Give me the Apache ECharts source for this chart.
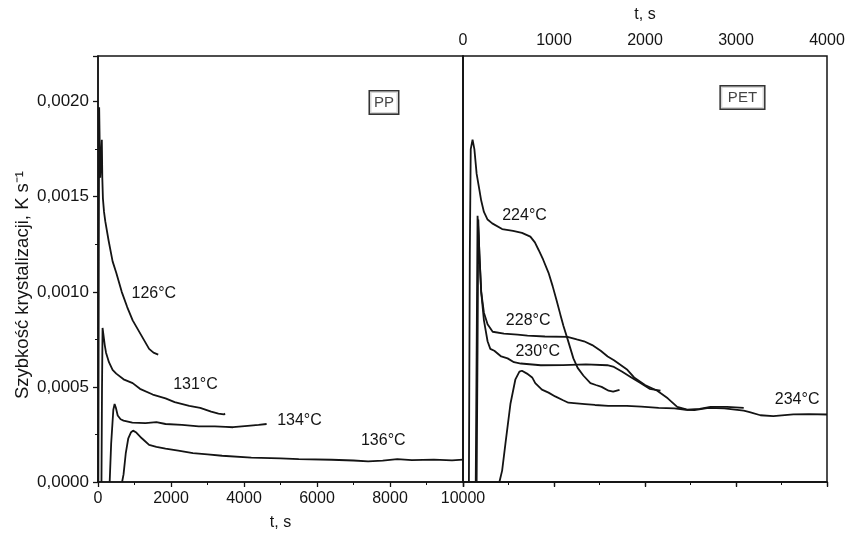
<!DOCTYPE html>
<html>
<head>
<meta charset="utf-8">
<script src="https://cdn.jsdelivr.net/npm/echarts@6/dist/echarts.min.js"></script>
<style>html,body{margin:0;padding:0;background:#fff}#c{width:852px;height:536px}</style>
</head>
<body>
<div id="c"></div>
<script>
// ---- data (t in s, rate in K/s) ----
const PP_126 = [[10,0],[22,0.0012],[32,0.00197],[45,0.0018],[60,0.0016],[85,0.0017],[105,0.0018],[118,0.0016],[135,0.00149],[165,0.00142],[200,0.00137],[290,0.00127],[400,0.00116],[500,0.0011],[650,0.001],[800,0.00092],[950,0.00085],[1100,0.0008],[1250,0.00075],[1400,0.0007],[1520,0.00068],[1650,0.00067]];
const PP_131 = [[95,0],[110,0.0005],[125,0.00081],[165,0.0008],[185,0.00072],[220,0.00068],[300,0.00063],[400,0.00059],[500,0.00057],[700,0.00054],[950,0.00052],[1150,0.00049],[1500,0.00046],[1850,0.00044],[2100,0.00042],[2500,0.0004],[2800,0.00039],[3100,0.00037],[3300,0.00036],[3450,0.000355],[3480,0.00036]];
const PP_134 = [[320,0],[360,0.0002],[420,0.00038],[455,0.00041],[490,0.00039],[540,0.00035],[619,0.00033],[700,0.000323],[940,0.000312],[1300,0.00031],[1600,0.000315],[1850,0.000305],[2300,0.0003],[2760,0.000293],[3200,0.000292],[3500,0.00029],[3700,0.000288],[4100,0.000295],[4400,0.0003],[4620,0.000305]];
const PP_136 = [[660,0],[700,0.00004],[760,0.00015],[830,0.00023],[900,0.00026],[960,0.00027],[1050,0.00026],[1200,0.00023],[1400,0.000195],[1600,0.000185],[1850,0.000175],[2200,0.000165],[2600,0.000152],[3000,0.000145],[3400,0.000138],[4200,0.000128],[5000,0.000124],[5500,0.00012],[6400,0.000117],[7000,0.000113],[7400,0.000108],[7800,0.000112],[8200,0.00012],[8600,0.000115],[9200,0.000118],[9700,0.000114],[10000,0.000118]];

const PET_224 = [[65,0],[75,0.0012],[85,0.00175],[105,0.0018],[125,0.00175],[150,0.00162],[175,0.00155],[200,0.00148],[230,0.00142],[270,0.00138],[321,0.00136],[430,0.00133],[550,0.00132],[648,0.00131],[740,0.00129],[790,0.00126],[831,0.00122],[880,0.00117],[940,0.0011],[985,0.00103],[1031,0.00095],[1070,0.00088],[1104,0.00082],[1150,0.00075],[1213,0.00065],[1260,0.0006],[1322,0.00056],[1400,0.00052],[1460,0.00051],[1523,0.0005],[1600,0.00048],[1650,0.000475],[1720,0.000485]];
const PET_228 = [[140,0],[150,0.0007],[160,0.0014],[172,0.0013],[185,0.00115],[200,0.001],[230,0.00089],[270,0.00083],[326,0.00079],[450,0.00078],[600,0.000775],[709,0.00077],[900,0.000765],[1148,0.000763],[1250,0.00075],[1330,0.00074],[1420,0.00072],[1513,0.00069],[1590,0.00066],[1659,0.00064],[1806,0.00059],[1880,0.00055],[2000,0.00051],[2135,0.00048],[2250,0.00044],[2354,0.000395],[2464,0.00038],[2600,0.000385],[2720,0.000395],[2900,0.000395],[3085,0.00039]];
const PET_230 = [[150,0],[160,0.0007],[168,0.00138],[180,0.0012],[200,0.001],[230,0.00085],[270,0.00074],[300,0.0007],[344,0.00069],[420,0.00066],[490,0.00065],[560,0.00063],[636,0.000623],[855,0.000614],[1100,0.000615],[1350,0.000618],[1586,0.000614],[1659,0.000605],[1750,0.00058],[1850,0.00055],[1950,0.00052],[2050,0.00049],[2170,0.00048]];
const PET_234 = [[400,0],[430,0.00006],[466,0.0002],[521,0.00041],[576,0.00054],[620,0.00058],[648,0.000585],[703,0.00057],[760,0.00055],[794,0.00052],[867,0.000486],[940,0.00047],[1013,0.00045],[1100,0.00043],[1158,0.000417],[1341,0.00041],[1450,0.000405],[1596,0.0004],[1800,0.0004],[1960,0.000396],[2150,0.00039],[2324,0.000387],[2450,0.00038],[2543,0.000378],[2700,0.00039],[2871,0.000387],[3085,0.000375],[3150,0.000368],[3268,0.000351],[3410,0.000346],[3630,0.000356],[3800,0.000357],[4000,0.000355]];

// label anchors (data coords) and texts
const PP_LABELS = ['126°C','131°C','134°C','136°C'];
const PP_LABEL_POS = [[1530,0.00099],[2670,0.000513],[5520,0.000323],[7816,0.00022]];
const PET_LABELS = ['224°C','228°C','230°C','234°C'];
const PET_LABEL_POS = [[676,0.001403],[716,0.000851],[821,0.000684],[3672,0.000435]];
const PANEL_TITLES = ['PP','PET'];
const PANEL_TITLE_POS = [[7835,0.001996],[3071,0.002022]];

const Y_MAX = 0.00224, Y_STEP = 0.0005;
const PP_X = {min:0, max:10000, step:2000};
const PET_X = {min:0, max:4000, step:1000};
const X_NAME = 't, s';
const Y_NAME = 'Szybkość krystalizacji, K s⁻¹';

// ---- chart ----
const FONT = 'Liberation Sans, Arial, Helvetica, sans-serif';
const INK = '#141414';
const chart = echarts.init(document.getElementById('c'), null, {renderer:'canvas'});

function lineSeries(data, xi, yi, lbl, pos){
  return {
    type:'line', data:data, xAxisIndex:xi, yAxisIndex:yi, symbol:'none', smooth:false,
    lineStyle:{color:INK, width:1.8}, silent:true,
    markPoint: {
      symbol:'rect', symbolSize:0, silent:true,
      label:{show:true, position:'inside', color:INK, fontFamily:FONT, fontSize:16, formatter:lbl},
      data:[{coord:pos, value:0}]
    }
  };
}
function titleSeries(xi, yi, text, pos, padH){
  return {
    type:'scatter', xAxisIndex:xi, yAxisIndex:yi, symbolSize:0, silent:true,
    data:[pos],
    label:{show:true, position:'inside', formatter:text, color:INK, fontFamily:FONT, fontSize:15,
      borderColor:'#000', borderWidth:1.5, padding:[4,padH,3,padH], backgroundColor:'#fff'}
  };
}
const intFmt = function(v){ return String(Math.round(v)); };

const axisCommon = {
  type:'value',
  axisLine:{show:true, lineStyle:{color:INK, width:1.5}},
  splitLine:{show:false},
  axisLabel:{color:INK, fontFamily:FONT, fontSize:16},
  nameTextStyle:{color:INK, fontFamily:FONT, fontSize:16}
};

const option = {
  animation:false,
  backgroundColor:'#fff',
  grid:[
    {left:98, right:389, top:56, bottom:54, show:true, borderColor:INK, borderWidth:1.5, backgroundColor:'transparent'},
    {left:463, right:25, top:56, bottom:54, show:true, borderColor:INK, borderWidth:1.5, backgroundColor:'transparent'}
  ],
  xAxis:[
    Object.assign({}, axisCommon, {gridIndex:0, position:'bottom', min:PP_X.min, max:PP_X.max, interval:PP_X.step,
      axisTick:{show:true, inside:false, length:5, lineStyle:{color:INK, width:1.3}},
      minorTick:{show:true, splitNumber:2, length:3, lineStyle:{color:INK, width:1}},
      axisLabel:Object.assign({}, axisCommon.axisLabel, {margin:9, formatter:intFmt}),
      name:X_NAME, nameLocation:'middle', nameGap:33}),
    Object.assign({}, axisCommon, {gridIndex:1, position:'top', min:PET_X.min, max:PET_X.max, interval:PET_X.step,
      axisTick:{show:true, inside:true, length:5, lineStyle:{color:INK, width:1.3}},
      minorTick:{show:true, splitNumber:2, length:3, lineStyle:{color:INK, width:1}},
      axisLabel:Object.assign({}, axisCommon.axisLabel, {margin:7, formatter:intFmt}),
      name:X_NAME, nameLocation:'middle', nameGap:33}),
    Object.assign({}, axisCommon, {gridIndex:1, position:'bottom', min:PET_X.min, max:PET_X.max, interval:PET_X.step,
      axisTick:{show:true, inside:false, length:4, lineStyle:{color:INK, width:1.2}},
      minorTick:{show:true, splitNumber:2, length:3, lineStyle:{color:INK, width:1}},
      axisLabel:{show:false}})
  ],
  yAxis:[
    Object.assign({}, axisCommon, {gridIndex:0, position:'left', min:0, max:Y_MAX, interval:Y_STEP,
      axisTick:{show:true, inside:false, length:5, lineStyle:{color:INK, width:1.3}},
      minorTick:{show:true, splitNumber:2, length:3, lineStyle:{color:INK, width:1}},
      axisLabel:Object.assign({}, axisCommon.axisLabel, {fontSize:17, margin:9, showMaxLabel:false,
        formatter:function(v){ return v.toFixed(4).replace('.', ','); }}),
      name:Y_NAME, nameLocation:'middle', nameGap:66, nameRotate:90,
      nameTextStyle:{color:INK, fontFamily:FONT, fontSize:18.5, padding:[0,32,0,0]}}),
    Object.assign({}, axisCommon, {gridIndex:1, position:'left', min:0, max:Y_MAX, interval:Y_STEP,
      axisTick:{show:false}, axisLabel:{show:false}})
  ],
  series:[
    lineSeries(PP_126, 0, 0, PP_LABELS[0], PP_LABEL_POS[0]),
    lineSeries(PP_131, 0, 0, PP_LABELS[1], PP_LABEL_POS[1]),
    lineSeries(PP_134, 0, 0, PP_LABELS[2], PP_LABEL_POS[2]),
    lineSeries(PP_136, 0, 0, PP_LABELS[3], PP_LABEL_POS[3]),
    lineSeries(PET_224, 1, 1, PET_LABELS[0], PET_LABEL_POS[0]),
    lineSeries(PET_228, 1, 1, PET_LABELS[1], PET_LABEL_POS[1]),
    lineSeries(PET_230, 1, 1, PET_LABELS[2], PET_LABEL_POS[2]),
    lineSeries(PET_234, 1, 1, PET_LABELS[3], PET_LABEL_POS[3]),
    titleSeries(0, 0, PANEL_TITLES[0], PANEL_TITLE_POS[0], 4),
    titleSeries(1, 1, PANEL_TITLES[1], PANEL_TITLE_POS[1], 7)
  ]
};
chart.setOption(option);
</script>
</body>
</html>
